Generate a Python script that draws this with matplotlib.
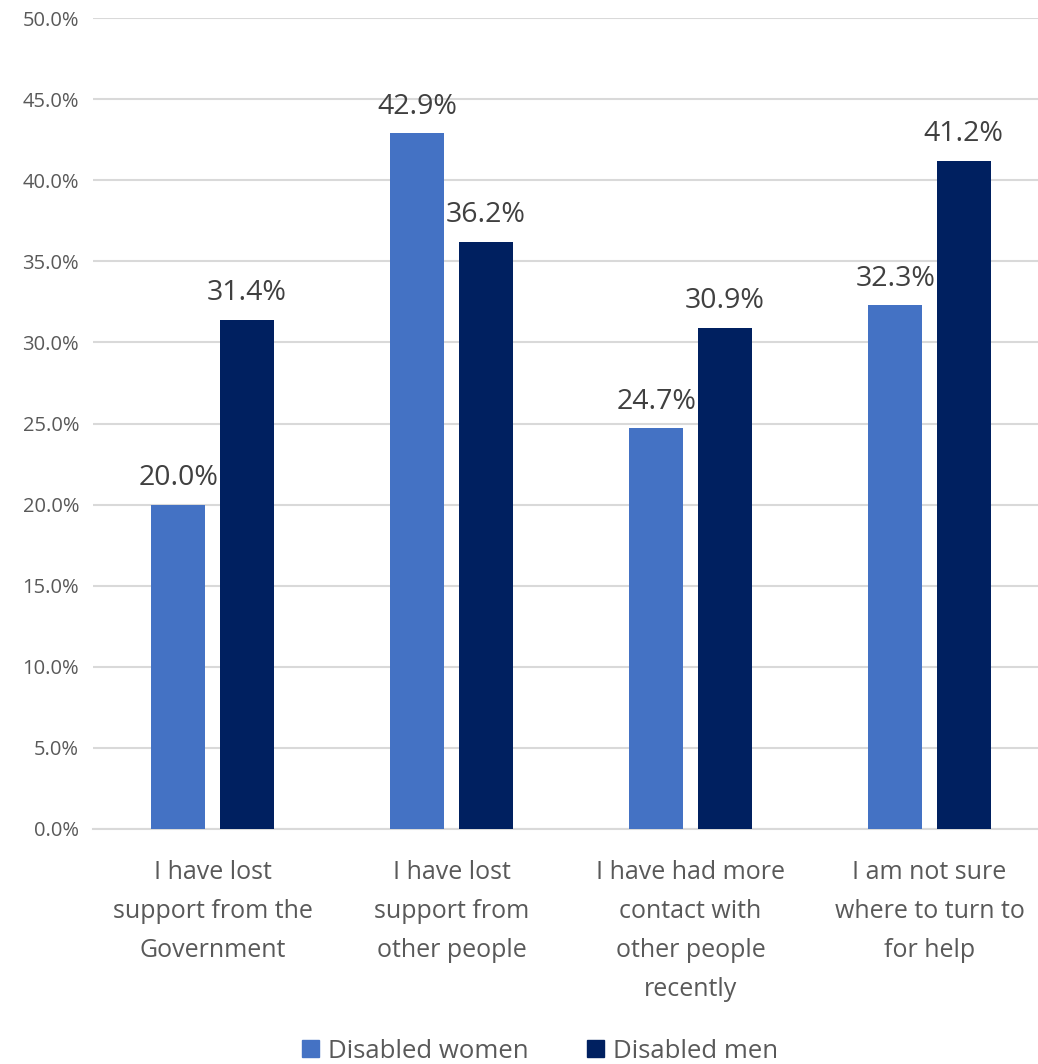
import matplotlib.pyplot as plt
import numpy as np
from matplotlib.patches import Patch
from matplotlib.ticker import FuncFormatter, MultipleLocator

plt.rcParams['font.family'] = ['Open Sans', 'DejaVu Sans']

# Data
categories = [
    "I have lost\nsupport from the\nGovernment",
    "I have lost\nsupport from\nother people",
    "I have had more\ncontact with\nother people\nrecently",
    "I am not sure\nwhere to turn to\nfor help",
]
women = [20.0, 42.9, 24.7, 32.3]
men = [31.4, 36.2, 30.9, 41.2]
series_names = ["Disabled women", "Disabled men"]

women_color = '#4472C4'
men_color = '#002060'
text_color = '#595959'
label_color = '#404040'

fig = plt.figure(figsize=(10.38, 10.64), dpi=100)
ax = fig.add_axes([93 / 1038, 235 / 1064, 956 / 1038, 811 / 1064])

x = np.arange(len(categories))
width = 0.226
offset = 0.143

bars_w = ax.bar(x - offset, women, width, color=women_color, zorder=3)
bars_m = ax.bar(x + offset, men, width, color=men_color, zorder=3)

# Data labels
for bars, vals in [(bars_w, women), (bars_m, men)]:
    for b, v in zip(bars, vals):
        ax.annotate(f"{v:.1f}%", (b.get_x() + b.get_width() / 2, v),
                    xytext=(0, 14), textcoords='offset points',
                    ha='center', va='baseline', fontsize=20.5,
                    color=label_color, zorder=4)

ax.set_xlim(-0.5, 3.5)
ax.set_ylim(0, 50)
ax.yaxis.set_major_locator(MultipleLocator(5))
ax.yaxis.set_major_formatter(FuncFormatter(lambda v, p: f"{v:.1f}%"))
ax.grid(axis='y', color='#D9D9D9', linewidth=1.5, zorder=0)

ax.set_xticks(x)
ax.set_xticklabels(categories, fontsize=18, color=text_color, linespacing=1.75)
ax.tick_params(axis='x', length=0, pad=22)
ax.tick_params(axis='y', length=0, pad=10, labelsize=14.5, labelcolor=text_color)

for s in ['top', 'right', 'left']:
    ax.spines[s].set_visible(False)
ax.spines['bottom'].set_color('#D9D9D9')
ax.spines['bottom'].set_linewidth(1.5)

handles = [Patch(color=women_color), Patch(color=men_color)]
fig.legend(handles, series_names, loc='center', bbox_to_anchor=(540 / 1038, 0.0122),
           ncol=2, frameon=False, fontsize=18.5, labelcolor=text_color,
           handlelength=0.65, handleheight=0.65, handletextpad=0.35,
           columnspacing=2.3)

plt.savefig('out.png', dpi=100)
plt.close()
